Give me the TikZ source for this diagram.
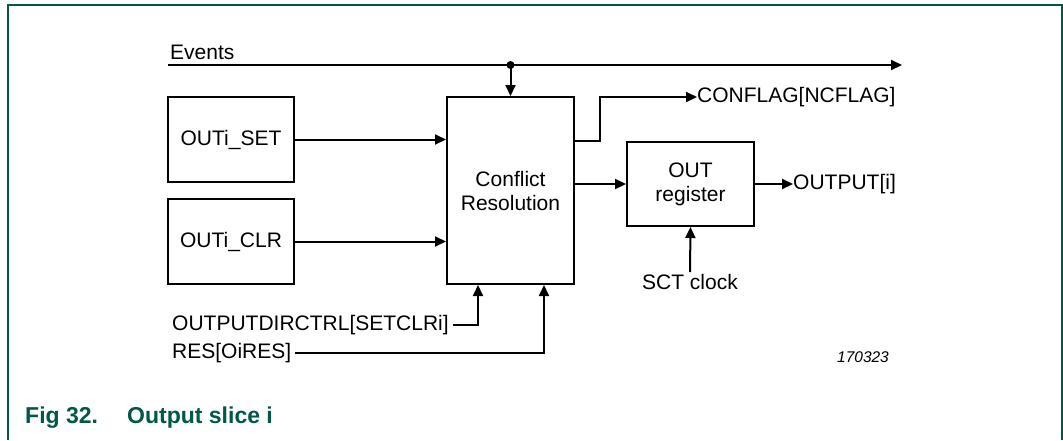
\documentclass[tikz,border=0pt]{standalone}
\usepackage{fontspec}
\setmainfont{Liberation Sans}
\usetikzlibrary{arrows.meta}
\definecolor{nxpgreen}{RGB}{0,88,70}
\begin{document}
\begin{tikzpicture}[x=1pt,y=-1pt,
  wire/.style={line width=2pt},
  arr/.style={wire,-{Triangle[length=11pt,width=10pt]}},
  blockbox/.style={draw,line width=2pt,inner sep=0pt,font=\fontsize{21}{24}\selectfont,align=center},
  lbl/.style={inner sep=0pt,font=\fontsize{21}{24}\selectfont}]
\useasboundingbox (0,0) rectangle (1063,440);
% frame
\draw[nxpgreen,line width=2pt] (8,440) -- (8,5) -- (1062,5) -- (1062,440);
% blocks
\node[blockbox,minimum width=126pt,minimum height=85pt] (set) at (231,139.5) {OUTi\_SET};
\node[blockbox,minimum width=126pt,minimum height=85pt] (clr) at (231,241.5) {OUTi\_CLR};
\node[blockbox,minimum width=127pt,minimum height=187pt] (cr) at (510.5,190.5) {Conflict\\Resolution};
\node[blockbox,minimum width=127pt,minimum height=84pt] (reg) at (690.5,184) {OUT\\register};
% events
\node[lbl,anchor=west] (ev) at (170,52) {Events};
\coordinate (evs) at (168,65);
\coordinate (eve) at (902,65);
\coordinate (dot) at (510.5,65);
\draw[arr] (evs) -- (eve);
\fill (dot) circle (4pt);
\draw[arr] (dot) -- (cr.north);
% inputs
\draw[arr] (set.east) -- (set.east -| cr.west);
\draw[arr] (clr.east) -- (clr.east -| cr.west);
% conflag
\node[lbl,anchor=west] (cf) at (697,97) {CONFLAG[NCFLAG]};
\coordinate (cfa) at (574,141);
\coordinate (cfb) at (600,141);
\coordinate (cfc) at (600,97);
\draw[arr] (cfa) -- (cfb) -- (cfc) -- (cf.west);
% cr -> reg
\draw[arr] (reg.west -| cr.east) -- (reg.west);
% output
\node[lbl,anchor=west] (out) at (793,184) {OUTPUT[i]};
\draw[arr] (reg.east) -- (out.west);
% clock
\node[lbl] (clk) at (690,282) {SCT clock};
\draw[arr] (clk.north) ++(0,-2) -- (reg.south);
% bottom inputs
\node[lbl,anchor=west] (dir) at (172,325) {OUTPUTDIRCTRL[SETCLRi]};
\node[lbl,anchor=west] (res) at (172,353) {RES[OiRES]};
\coordinate (dirc) at (478,325);
\coordinate (resc) at (544,353);
\draw[arr] ([xshift=4pt]dir.east) -- (dirc) -- (dirc |- cr.south);
\draw[arr] ([xshift=4pt]res.east) -- (resc) -- (resc |- cr.south);
% id
\node[inner sep=0pt,font=\fontsize{15.5}{18}\selectfont\itshape] (id) at (863,357) {170323};
% caption
\node[inner sep=0pt,anchor=west,text=nxpgreen,font=\fontsize{23}{26}\selectfont\bfseries] (cap) at (25,418) {Fig 32.};
\node[inner sep=0pt,anchor=west,text=nxpgreen,font=\fontsize{23}{26}\selectfont\bfseries] (cap2) at (127,418) {Output slice i};
\end{tikzpicture}
\end{document}
